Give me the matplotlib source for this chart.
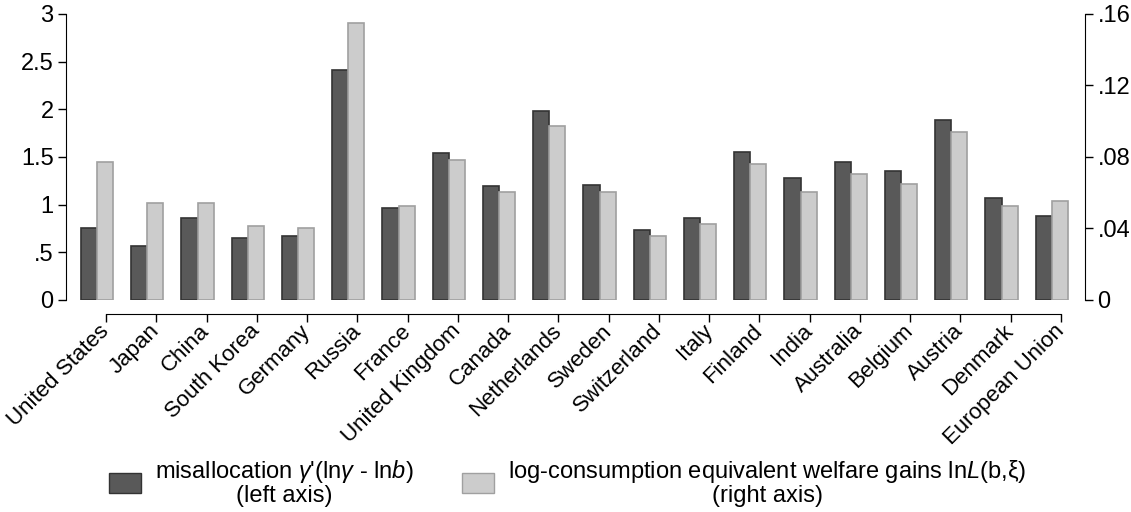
import matplotlib
matplotlib.use("Agg")
import matplotlib.pyplot as plt
import matplotlib.patches as patches
import numpy as np

plt.rcParams['font.family'] = ['Liberation Sans', 'DejaVu Sans']
plt.rcParams['mathtext.fontset'] = 'custom'
plt.rcParams['mathtext.rm'] = 'Liberation Sans'
plt.rcParams['mathtext.it'] = 'Liberation Sans:italic'

countries = ["United States", "Japan", "China", "South Korea", "Germany", "Russia",
             "France", "United Kingdom", "Canada", "Netherlands", "Sweden",
             "Switzerland", "Italy", "Finland", "India", "Australia", "Belgium",
             "Austria", "Denmark", "European Union"]
misalloc = [0.75, 0.57, 0.86, 0.65, 0.67, 2.41, 0.97, 1.54, 1.20, 1.98, 1.21,
            0.73, 0.86, 1.55, 1.28, 1.45, 1.35, 1.89, 1.07, 0.88]
welfare = [0.0773, 0.0544, 0.0544, 0.0416, 0.0400, 0.1547, 0.0523, 0.0784, 0.0603,
           0.0971, 0.0603, 0.0357, 0.0427, 0.0763, 0.0603, 0.0704, 0.0651, 0.0939,
           0.0523, 0.0555]
left_ticks = [0, 0.5, 1, 1.5, 2, 2.5, 3]
left_labels = ["0", ".5", "1", "1.5", "2", "2.5", "3"]
right_ticks = [0, 0.04, 0.08, 0.12, 0.16]
right_labels = ["0", ".04", ".08", ".12", ".16"]

dark, dark_edge = "#595959", "#333333"
light, light_edge = "#cccccc", "#a0a0a0"
fs = 17

fig = plt.figure(figsize=(11.31, 5.12), dpi=100)
ax = fig.add_axes([0.0584, 0.4141, 0.9009, 0.5586])
ax2 = ax.twinx()

x = np.arange(len(countries))
w = 0.32
ax.bar(x - w / 2, misalloc, w, color=dark, edgecolor=dark_edge, linewidth=1.2)
ax2.bar(x + w / 2, welfare, w, color=light, edgecolor=light_edge, linewidth=1.2)

xlim = (-0.617, 19.66)
ax.set_xlim(*xlim)
ax.set_ylim(0, 3)
ax2.set_ylim(0, 0.16)

for a in (ax, ax2):
    a.spines['top'].set_visible(False)
    a.spines['bottom'].set_visible(False)
ax.spines['right'].set_visible(False)
ax2.spines['left'].set_visible(False)
ax.set_xticks([])

ax.set_yticks(left_ticks)
ax.set_yticklabels(left_labels, fontsize=fs)
ax.tick_params(axis='y', length=6, width=1, pad=3)
ax2.set_yticks(right_ticks)
ax2.set_yticklabels(right_labels, fontsize=fs)
ax2.tick_params(axis='y', length=6, width=1, pad=3)

# category label axis below the plot
axc = fig.add_axes([0.0584, 0.3867, 0.9009, 0.001])
axc.set_xlim(*xlim)
axc.set_ylim(0, 1)
for s in ('top', 'left', 'right'):
    axc.spines[s].set_visible(False)
axc.set_yticks([])
off = 0.18
axc.spines['bottom'].set_bounds(off, len(countries) - 1 + off)
axc.set_xticks(x + off)
axc.set_xticklabels(countries, rotation=45, ha='right', va='center',
                    rotation_mode='anchor', fontsize=16)
axc.tick_params(axis='x', length=6, width=1, pad=4)
axc.patch.set_visible(False)

h1 = patches.Patch(facecolor=dark, edgecolor=dark_edge, linewidth=1)
h2 = patches.Patch(facecolor=light, edgecolor=light_edge, linewidth=1)
lab1 = "misallocation $\\gamma$'(ln$\\gamma$ - ln$b$)\n(left axis)"
lab2 = "log-consumption equivalent welfare gains ln$L$(b,ξ)\n(right axis)"
for h, lab, x0 in [(h1, lab1, 109 / 1131), (h2, lab2, 462 / 1131)]:
    leg = fig.legend([h], [lab], loc='center left', bbox_to_anchor=(x0, 0.057),
                     frameon=False, fontsize=fs, handlelength=1.36, handleheight=0.89,
                     handletextpad=0.6, borderpad=0, borderaxespad=0)
    for t in leg.get_texts():
        t.set_multialignment('center')
        t.set_linespacing(1.0)

fig.savefig("out.png", dpi=100)
